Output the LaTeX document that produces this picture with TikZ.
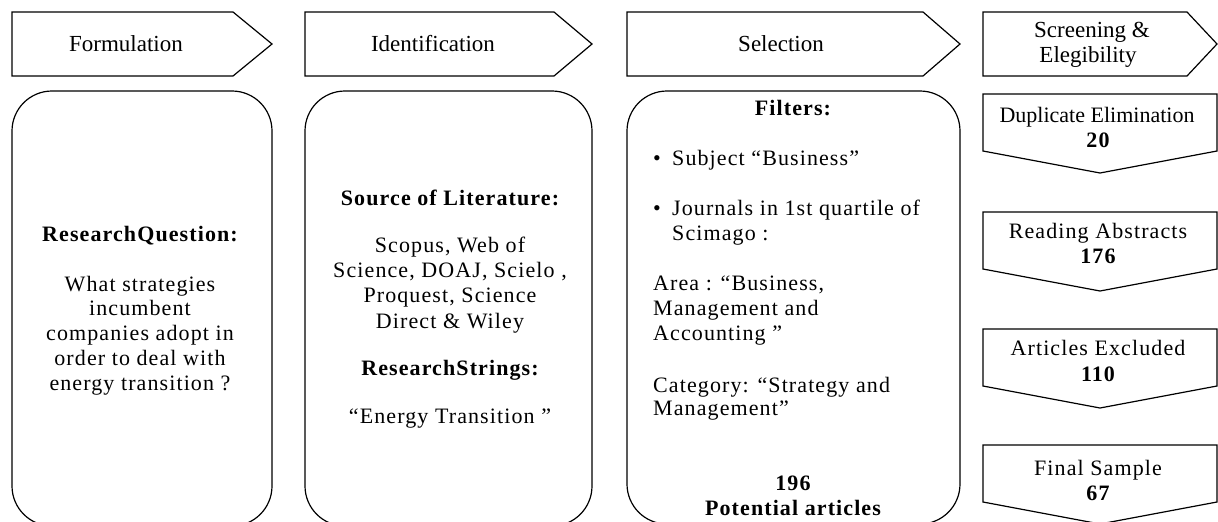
\documentclass[tikz,border=0pt]{standalone}
\usepackage{fontspec}
\setmainfont{Liberation Serif}
\newfontfamily\bodyf[LetterSpace=5]{Liberation Serif}
\tikzset{
  shp/.style={draw=black, line width=1.2pt, fill=white, line join=miter},
  rbox/.style={shp, rounded corners=40pt},
  hd/.style={font=\fontsize{23}{25}\selectfont, anchor=base, inner sep=0pt},
  tx/.style={font=\bodyf\fontsize{22}{25}\selectfont, anchor=base, inner sep=0pt},
  tp/.style={font=\fontsize{22}{25}\selectfont, anchor=base, inner sep=0pt},
  tb/.style={font=\bodyf\bfseries\fontsize{22}{25}\selectfont, anchor=base, inner sep=0pt},
  txl/.style={tx, anchor=base west},
}
\begin{document}
\begin{tikzpicture}[x=1pt,y=-1pt]
\useasboundingbox (0,0) rectangle (1218,522);
\begin{scope}
\clip (0,0) rectangle (1218,522);
% headers
\draw[shp] (12,12) -- (233,12) -- (272,44) -- (233,76) -- (12,76) -- cycle;
\draw[shp] (305,12) -- (554,12) -- (592,44) -- (554,76) -- (305,76) -- cycle;
\draw[shp] (627,12) -- (923,12) -- (960,44) -- (923,76) -- (627,76) -- cycle;
\draw[shp] (983,12) -- (1187,12) -- (1217,44) -- (1187,76) -- (983,76) -- cycle;
% rounded boxes
\draw[rbox] (12,91) rectangle (272,526);
\draw[rbox] (305,91) rectangle (592,526);
\draw[rbox] (627,91) rectangle (960,524);
% screening pentagons
\draw[shp] (983,94) -- (1217,94) -- (1217,151) -- (1100,173) -- (983,151) -- cycle;
\draw[shp] (983,212) -- (1217,212) -- (1217,269) -- (1100,291) -- (983,269) -- cycle;
\draw[shp] (983,329) -- (1217,329) -- (1217,386) -- (1100,408) -- (983,386) -- cycle;
\draw[shp] (983,445) -- (1217,445) -- (1217,502) -- (1100,524) -- (983,502) -- cycle;
\end{scope}
% header texts
\node[hd] (h1) at (126,51) {Formulation};
\node[hd] (h2) at (433,51) {Identification};
\node[hd] (h3) at (781,51) {Selection};
\node[hd] (h4a) at (1092,37) {Screening \&};
\node[hd] (h4b) at (1088,62) {Elegibility};
% box 1
\node[tb] (q0) at (140,241) {ResearchQuestion:};
\node[tx] (q1) at (140,291) {What strategies};
\node[tx] (q2) at (140,315) {incumbent};
\node[tx] (q3) at (140,340) {companies adopt in};
\node[tx] (q4) at (140,365) {order to deal with};
\node[tx] (q5) at (140,390) {energy transition ?};
% box 2
\node[tb] (s0) at (450,205) {Source of Literature:};
\node[tx] (s1) at (450,252) {Scopus, Web of};
\node[tx] (s2) at (450,277) {Science, DOAJ, Scielo ,};
\node[tx] (s3) at (450,302) {Proquest, Science};
\node[tx] (s4) at (450,328) {Direct \& Wiley};
\node[tb] (s5) at (450,375) {ResearchStrings:};
\node[tx] (s6) at (450,423) {“Energy Transition ”};
% box 3
\node[tb] (f0) at (793,115) {Filters:};
\node[tx] (b1) at (657,165) {•};
\node[txl] (f1) at (672,165) {Subject “Business”};
\node[tx] (b2) at (657,215) {•};
\node[txl] (f2) at (672,215) {Journals in 1st quartile of};
\node[txl] (f3) at (672,240) {Scimago :};
\node[txl] (f4) at (653,290) {Area : “Business,};
\node[txl] (f5) at (653,315) {Management and};
\node[txl] (f6) at (653,340) {Accounting ”};
\node[txl] (f7) at (653,392) {Category: “Strategy and};
\node[txl] (f8) at (653,415) {Management”};
\node[tb] (f9) at (793,490) {196};
\node[tb] (f10) at (793,515) {Potential articles};
% screening texts
\node[tp] (d1) at (1097,122) {Duplicate Elimination};
\node[tb] (d2) at (1098,147) {20};
\node[tx] (r1) at (1098,238) {Reading Abstracts};
\node[tb] (r2) at (1098,263) {176};
\node[tx] (a1) at (1098,355) {Articles Excluded};
\node[tb] (a2) at (1098,381) {110};
\node[tx] (e1) at (1098,475) {Final Sample};
\node[tb] (e2) at (1098,500) {67};
\end{tikzpicture}
\end{document}
